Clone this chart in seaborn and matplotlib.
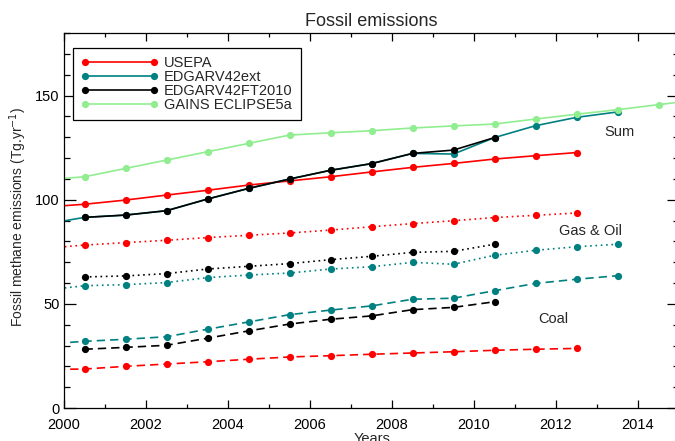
import matplotlib
matplotlib.use('Agg')
import matplotlib.pyplot as plt
import numpy as np
import pandas as pd
import seaborn as sns
from matplotlib.lines import Line2D
from matplotlib.ticker import MultipleLocator

nan = np.nan

# mid-year time axis (first and last points fall outside the visible range)
years = [1999.5, 2000.5, 2001.5, 2002.5, 2003.5, 2004.5, 2005.5, 2006.5, 2007.5,
         2008.5, 2009.5, 2010.5, 2011.5, 2012.5, 2013.5, 2014.5, 2015.5]

sources = ['USEPA', 'EDGARV42ext', 'EDGARV42FT2010', 'GAINS ECLIPSE5a']
sectors = ['Sum', 'Gas & Oil', 'Coal']

# Sum
usepa_sum = [96.4, 97.8, 99.8, 102.2, 104.5, 107.0, 109.0, 111.0, 113.3, 115.5, 117.4, 119.5, 121.1, 122.6, nan, nan, nan]
edgar_ext_sum = [88.1, 91.5, 92.6, 94.7, 100.3, 105.4, 109.9, 114.1, 117.3, 122.2, 121.9, 129.8, 135.5, 139.5, 142.1, nan, nan]
edgar_ft_sum = [nan, 91.5, 92.6, 94.7, 100.3, 105.4, 109.9, 114.1, 117.3, 122.2, 123.8, 129.8, nan, nan, nan, nan, nan]
gains_sum = [109.4, 111.0, 115.0, 119.0, 123.0, 127.0, 131.0, 132.1, 133.1, 134.4, 135.4, 136.3, 138.7, 141.0, 143.2, 145.6, 148.0]

# Gas & Oil
usepa_gas = [76.6, 78.2, 79.4, 80.5, 81.8, 82.9, 84.0, 85.4, 87.0, 88.5, 89.9, 91.4, 92.5, 93.6, nan, nan, nan]
edgar_ext_gas = [56.5, 58.7, 59.2, 60.2, 62.6, 63.8, 64.8, 66.7, 67.8, 69.9, 69.0, 73.3, 75.7, 77.4, 78.6, nan, nan]
edgar_ft_gas = [nan, 62.9, 63.4, 64.5, 66.7, 68.0, 69.3, 71.2, 72.8, 74.7, 75.2, 78.6, nan, nan, nan, nan, nan]

# Coal
usepa_coal = [18.5, 18.7, 20.0, 21.1, 22.2, 23.4, 24.5, 25.1, 25.8, 26.4, 27.0, 27.7, 28.2, 28.6, nan, nan, nan]
edgar_ext_coal = [30.6, 32.0, 33.0, 34.2, 37.8, 41.3, 44.8, 47.0, 49.0, 52.2, 52.7, 56.3, 59.8, 61.8, 63.5, nan, nan]
edgar_ft_coal = [nan, 28.2, 29.1, 30.1, 33.5, 37.0, 40.3, 42.6, 44.2, 47.2, 48.3, 51.0, nan, nan, nan, nan, nan]

series = {
    ('USEPA', 'Sum'): usepa_sum,
    ('USEPA', 'Gas & Oil'): usepa_gas,
    ('USEPA', 'Coal'): usepa_coal,
    ('EDGARV42ext', 'Sum'): edgar_ext_sum,
    ('EDGARV42ext', 'Gas & Oil'): edgar_ext_gas,
    ('EDGARV42ext', 'Coal'): edgar_ext_coal,
    ('EDGARV42FT2010', 'Sum'): edgar_ft_sum,
    ('EDGARV42FT2010', 'Gas & Oil'): edgar_ft_gas,
    ('EDGARV42FT2010', 'Coal'): edgar_ft_coal,
    ('GAINS ECLIPSE5a', 'Sum'): gains_sum,
}

colors = {'USEPA': '#ff0000', 'EDGARV42ext': '#008080',
          'EDGARV42FT2010': '#000000', 'GAINS ECLIPSE5a': '#90ee90'}
dash_styles = {'Sum': '', 'Gas & Oil': (1, 2.2), 'Coal': (5, 3)}

rows = []
for (src, sec), vals in series.items():
    for yr, v in zip(years, vals):
        if not np.isnan(v):
            rows.append({'year': yr, 'value': v, 'source': src, 'sector': sec})
df = pd.DataFrame(rows)

sns.set_style('ticks', {'xtick.direction': 'in', 'ytick.direction': 'in'})
plt.rcParams['font.family'] = ['Liberation Sans', 'DejaVu Sans']

fig = plt.figure(figsize=(6.75, 4.41), dpi=100)
ax = fig.add_axes([64 / 675, 1 - 408 / 441, 615 / 675, 375 / 441])

sns.lineplot(data=df, x='year', y='value', hue='source', style='sector',
             hue_order=sources, style_order=sectors, palette=colors,
             dashes=dash_styles, markers={'Sum': 'o', 'Gas & Oil': 'o', 'Coal': 'o'},
             markersize=5.2, markeredgewidth=0, linewidth=1.2,
             errorbar=None, legend=False, ax=ax)

ax.set_xlim(2000, 2015)
ax.set_ylim(0, 180)
ax.xaxis.set_major_locator(MultipleLocator(2))
ax.xaxis.set_minor_locator(MultipleLocator(1))
ax.yaxis.set_major_locator(MultipleLocator(50))
ax.yaxis.set_minor_locator(MultipleLocator(10))
ax.tick_params(axis='both', which='both', direction='in', top=True, right=True,
               labelsize=10.5, colors='black', width=0.9)
ax.tick_params(axis='x', which='major', length=5.8, pad=7.5)
ax.tick_params(axis='x', which='minor', length=2.9)
ax.tick_params(axis='y', which='major', length=8.6, pad=3)
ax.tick_params(axis='y', which='minor', length=4.3)
for sp in ax.spines.values():
    sp.set_visible(True)
    sp.set_color('black')
    sp.set_linewidth(0.9)

ax.set_xlabel('')
ax.set_ylabel('Fossil methane emissions (Tg.yr$^{-1}$)', fontsize=10)
ax.yaxis.set_label_coords(-0.057, 0.51)
fig.text(372 / 675, 1 - 443 / 441, 'Years', ha='center', va='baseline', fontsize=10.5)
ax.set_title('Fossil emissions', fontsize=13, pad=5)

ax.text(2013.54, 132.5, 'Sum', ha='center', va='center', fontsize=10.5)
ax.text(2012.85, 85, 'Gas & Oil', ha='center', va='center', fontsize=10.5)
ax.text(2011.93, 42.7, 'Coal', ha='center', va='center', fontsize=10.5)

handles = [Line2D([0], [0], color=colors[s], lw=1.2, marker='o', ms=5.2, mew=0)
           for s in sources]
leg = ax.legend(handles, sources, loc='upper left', bbox_to_anchor=(0.0146, 0.96),
                borderaxespad=0, numpoints=2, handlelength=5.3, handletextpad=0.4,
                labelspacing=0.0, borderpad=0.55, fontsize=10.5, frameon=True,
                fancybox=False, framealpha=1)
leg.get_frame().set_edgecolor('black')
leg.get_frame().set_linewidth(0.9)

fig.savefig('out.png', dpi=100)
